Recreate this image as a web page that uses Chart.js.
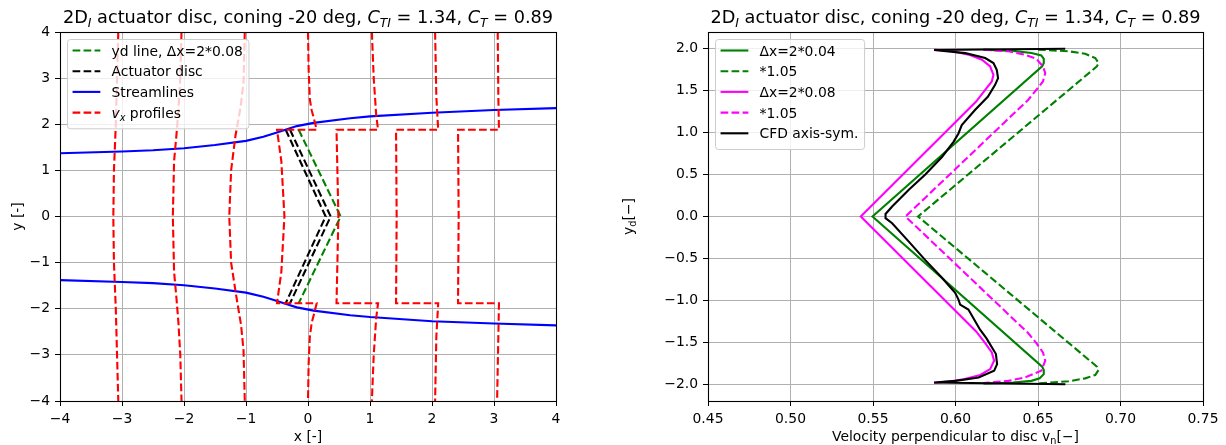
<!DOCTYPE html>
<html>
<head>
<meta charset="utf-8">
<script src="https://cdn.jsdelivr.net/npm/chart.js@4.4.1/dist/chart.umd.min.js"></script>
<style>
  html, body { margin: 0; padding: 0; background: #fff; overflow: hidden; }
  #c1 { position: absolute; left: 0; top: 0; }
  #c2 { position: absolute; left: 613px; top: 0; }
</style>
</head>
<body>
<canvas id="c1" width="613" height="445"></canvas>
<canvas id="c2" width="613" height="445"></canvas>
<script>
// ---- left panel data ----
const xTicksL = [-4, -3, -2, -1, 0, 1, 2, 3, 4];
const yTicksL = [-4, -3, -2, -1, 0, 1, 2, 3, 4];

const streamUpper = [[-4, 1.37], [-3, 1.41], [-2.5, 1.435], [-2, 1.48], [-1.5, 1.55], [-1, 1.64], [-0.72, 1.73], [-0.5, 1.82], [-0.34, 1.89], [-0.18, 1.96], [0.09, 2.03], [0.68, 2.13], [1, 2.17], [2, 2.25], [3, 2.31], [4, 2.35]];
const streamLower = [[-4, -1.38], [-3, -1.42], [-2.5, -1.445], [-2, -1.49], [-1.5, -1.56], [-1, -1.65], [-0.72, -1.74], [-0.5, -1.83], [-0.34, -1.9], [-0.18, -1.97], [0.09, -2.04], [0.68, -2.14], [1, -2.18], [2, -2.27], [3, -2.32], [4, -2.36]];

const discA = [[-0.36, 1.88], [0.285, 0], [-0.36, -1.88]];
const discB = [[-0.29, 1.88], [0.366, 0], [-0.29, -1.88]];
const ydLine = [[-0.15, 1.88], [0.527, 0], [-0.15, -1.88]];

const profiles = [
  [[-3.06, 4], [-3.08, 3], [-3.10, 2], [-3.13, 1], [-3.14, 0], [-3.13, -1], [-3.10, -2], [-3.08, -3], [-3.06, -4]],
  [[-2.04, 4], [-2.06, 3], [-2.09, 2.3], [-2.12, 1.8], [-2.16, 1.2], [-2.18, 0], [-2.16, -1.2], [-2.12, -1.8], [-2.09, -2.3], [-2.06, -3], [-2.04, -4]],
  [[-1.02, 4], [-1.04, 2.9], [-1.09, 2.35], [-1.17, 1.75], [-1.24, 1], [-1.27, 0], [-1.24, -1], [-1.16, -1.7], [-1.08, -2.35], [-1.04, -2.9], [-1.02, -4]],
  [[0.0, 4], [0.01, 3.2], [0.03, 2.53], [0.06, 2.3], [0.1, 2.1], [0.14, 1.88], [-0.5, 1.88], [-0.43, 1.2], [-0.38, 0], [-0.43, -1.2], [-0.5, -1.88], [0.14, -1.88], [0.1, -2.1], [0.06, -2.3], [0.03, -2.6], [0.01, -3.2], [0.0, -4]],
  [[1.03, 4], [1.06, 3], [1.10, 2.2], [1.13, 1.88], [0.46, 1.88], [0.49, 0], [0.46, -1.88], [1.13, -1.88], [1.10, -2.2], [1.06, -3], [1.03, -4]],
  [[2.05, 4], [2.07, 2.6], [2.10, 1.88], [1.42, 1.88], [1.43, 0], [1.42, -1.88], [2.10, -1.88], [2.07, -2.6], [2.05, -4]],
  [[3.06, 4], [3.07, 2.6], [3.08, 1.88], [2.42, 1.88], [2.43, 0], [2.42, -1.88], [3.08, -1.88], [3.07, -2.6], [3.05, -4]]
];

// ---- right panel data ----
const xTicksR = [0.45, 0.5, 0.55, 0.6, 0.65, 0.7, 0.75];
const yTicksR = [-2, -1.5, -1, -0.5, 0, 0.5, 1, 1.5, 2];

const green004 = [[0.617, 1.99], [0.635, 1.975], [0.646, 1.95], [0.652, 1.92], [0.6535, 1.88], [0.6535, 1.83], [0.6525, 1.79], [0.5497, 0],
  [0.6525, -1.79], [0.6535, -1.83], [0.6535, -1.88], [0.651, -1.93], [0.646, -1.96], [0.635, -1.98], [0.617, -1.995]];
const green004x105 = [[0.650, 1.99], [0.6686, 1.97], [0.6786, 1.94], [0.6847, 1.89], [0.6867, 1.83], [0.6857, 1.79], [0.5773, 0],
  [0.6857, -1.79], [0.6867, -1.83], [0.6847, -1.89], [0.6786, -1.93], [0.6686, -1.965], [0.650, -1.99]];
const magenta008 = [[0.587, 1.99], [0.598, 1.97], [0.608, 1.93], [0.616, 1.87], [0.621, 1.79], [0.623, 1.69], [0.622, 1.61], [0.618, 1.51], [0.6125, 1.37], [0.5426, 0],
  [0.6125, -1.37], [0.618, -1.51], [0.622, -1.62], [0.6234, -1.72], [0.621, -1.82], [0.615, -1.89], [0.605, -1.94], [0.597, -1.965], [0.587, -1.985]];
const magenta008x105 = [[0.617, 1.99], [0.632, 1.97], [0.642, 1.93], [0.649, 1.88], [0.653, 1.79], [0.6544, 1.71], [0.653, 1.61], [0.649, 1.51], [0.644, 1.39], [0.5697, 0],
  [0.644, -1.39], [0.649, -1.51], [0.653, -1.62], [0.6544, -1.72], [0.652, -1.84], [0.642, -1.92], [0.632, -1.96], [0.617, -1.985]];
const cfdAxisym = [[0.6665, 2.0], [0.587, 1.985], [0.606, 1.948], [0.618, 1.89], [0.623, 1.83], [0.625, 1.75], [0.6258, 1.65], [0.624, 1.57], [0.6197, 1.43], [0.6118, 1.27], [0.6038, 1.09], [0.6018, 0.99], [0.5988, 0.89], [0.5918, 0.71], [0.5817, 0.5], [0.5717, 0.32], [0.5616, 0.12], [0.5576, 0.03], [0.5576, 0],
  [0.5576, -0.02], [0.5616, -0.08], [0.5717, -0.3], [0.5817, -0.52], [0.5918, -0.73], [0.5998, -0.91], [0.6018, -0.99], [0.6028, -1.05], [0.6078, -1.11], [0.6149, -1.35], [0.6187, -1.45], [0.6245, -1.64], [0.6252, -1.76], [0.6234, -1.84], [0.614, -1.92], [0.600, -1.96], [0.587, -1.98], [0.6666, -2.0]];

const FONT = '"DejaVu Sans"';
const DASH = [7.7, 3.3];
const LW = 2.1;

const pts = arr => arr.map(p => ({x: p[0], y: p[1]}));

// draw text made of pieces: plain, italic, subscript
function drawRich(ctx, segs, x, y, size, align) {
  const parts = segs.map(s => {
    const fs = s.sub ? size * 0.7 : size;
    const font = (s.it ? 'italic ' : '') + fs + 'px ' + FONT;
    ctx.font = font;
    return {t: s.t, font: font, w: ctx.measureText(s.t).width, dy: s.sub ? size * 0.22 : 0};
  });
  const total = parts.reduce((a, p) => a + p.w, 0);
  let cx = align === 'center' ? x - total / 2 : x;
  ctx.textAlign = 'left';
  ctx.textBaseline = 'alphabetic';
  parts.forEach(p => {
    ctx.font = p.font;
    ctx.fillText(p.t, cx, y + p.dy);
    cx += p.w;
  });
  return total;
}

const mplDecor = {
  id: 'mplDecor',
  afterDatasetsDraw(chart, args, o) {
    const {ctx, chartArea: a} = chart;
    ctx.save();
    ctx.strokeStyle = '#000';
    ctx.lineWidth = 1.1;
    ctx.setLineDash([]);
    ctx.strokeRect(Math.round(a.left) + 0.5, Math.round(a.top) + 0.5, Math.round(a.right - a.left), Math.round(a.bottom - a.top));
    ctx.fillStyle = '#000';
    drawRich(ctx, o.title, (a.left + a.right) / 2, 23, 17.7, 'center');
    drawRich(ctx, o.xlabel, (a.left + a.right) / 2, 441, 13.9, 'center');
    ctx.save();
    ctx.translate(o.ylabelX, (a.top + a.bottom) / 2);
    ctx.rotate(-Math.PI / 2);
    drawRich(ctx, o.ylabel, 0, 0, 13.9, 'center');
    ctx.restore();

    // legend box
    const fs = 13.9;
    let maxW = 0;
    o.legend.forEach(it => {
      const w = it.segs.reduce((s, g) => {
        ctx.font = (g.it ? 'italic ' : '') + (g.sub ? fs * 0.7 : fs) + 'px ' + FONT;
        return s + ctx.measureText(g.t).width;
      }, 0);
      maxW = Math.max(maxW, w);
    });
    const bx = a.left + 7, by = a.top + 7;
    const bw = 0.4 * fs + 2 * fs + 0.8 * fs + maxW + 0.4 * fs;
    const pitch = 20.7;
    const bh = o.legend.length * pitch + 6.5;
    ctx.beginPath();
    ctx.roundRect(bx + 0.5, by + 0.5, bw, bh, 3);
    ctx.fillStyle = 'rgba(255,255,255,0.8)';
    ctx.fill();
    ctx.strokeStyle = '#cccccc';
    ctx.lineWidth = 1;
    ctx.stroke();
    o.legend.forEach((it, i) => {
      const cy = by + 11.5 + i * pitch;
      const hx = bx + 0.4 * fs;
      ctx.beginPath();
      ctx.strokeStyle = it.color;
      ctx.lineWidth = LW;
      ctx.setLineDash(it.dash ? DASH : []);
      ctx.moveTo(hx, cy);
      ctx.lineTo(hx + 2 * fs, cy);
      ctx.stroke();
      ctx.setLineDash([]);
      ctx.fillStyle = '#000';
      drawRich(ctx, it.segs, hx + 2.8 * fs, cy + 5, fs, 'left');
    });
    ctx.restore();
  }
};

const minus = s => s.replace('-', '\u2212');

function axes(ticksX, ticksY, lo, hi, fmtX, fmtY, yw) {
  const common = {
    type: 'linear',
    grid: {color: '#b0b0b0', lineWidth: 1, tickColor: '#000', tickLength: 5},
    border: {display: false},
    ticks: {color: '#000', padding: 5, font: {family: 'DejaVu Sans', size: 13.9}}
  };
  return {
    x: Object.assign({}, common, {
      min: lo[0], max: hi[0],
      afterBuildTicks: s => { s.ticks = ticksX.map(v => ({value: v})); },
      afterFit: s => { s.height = 44; },
      ticks: Object.assign({}, common.ticks, {maxRotation: 0, autoSkip: false, callback: fmtX})
    }),
    y: Object.assign({}, common, {
      min: lo[1], max: hi[1],
      afterBuildTicks: s => { s.ticks = ticksY.map(v => ({value: v})); },
      afterFit: s => { s.width = yw; },
      ticks: Object.assign({}, common.ticks, {autoSkip: false, callback: fmtY})
    })
  };
}

function line(data, color, dash) {
  return {
    data: pts(data), showLine: true, pointRadius: 0, pointHoverRadius: 0,
    borderColor: color, backgroundColor: color, borderWidth: LW,
    borderDash: dash ? DASH : [], fill: false, tension: 0
  };
}

const title = [
  {t: '2D'}, {t: 'I', it: 1, sub: 1}, {t: ' actuator disc, coning -20 deg, '},
  {t: 'C', it: 1}, {t: 'TI', it: 1, sub: 1}, {t: ' = 1.34, '},
  {t: 'C', it: 1}, {t: 'T', it: 1, sub: 1}, {t: ' = 0.89'}
];

// left panel: red profiles first so they sit on top
const leftSets = profiles.map(p => line(p, '#ff0000', true))
  .concat([line(streamUpper, '#0000ff', false), line(streamLower, '#0000ff', false),
           line(discA, '#000000', true), line(discB, '#000000', true),
           line(ydLine, '#008000', true)]);

new Chart(document.getElementById('c1'), {
  type: 'scatter',
  data: {datasets: leftSets},
  options: {
    responsive: false, animation: false, devicePixelRatio: 1,
    layout: {padding: {left: 0, right: 57, top: 32, bottom: 0}},
    scales: axes(xTicksL, yTicksL, [-4, -4], [4, 4],
      v => minus(String(v)), v => minus(String(v)), 60),
    plugins: {
      legend: {display: false}, tooltip: {enabled: false},
      mplDecor: {
        title: title,
        xlabel: [{t: 'x [-]'}],
        ylabel: [{t: 'y [-]'}],
        ylabelX: 22,
        legend: [
          {segs: [{t: 'yd line, \u0394x=2*0.08'}], color: '#008000', dash: true},
          {segs: [{t: 'Actuator disc'}], color: '#000000', dash: true},
          {segs: [{t: 'Streamlines'}], color: '#0000ff', dash: false},
          {segs: [{t: 'v', it: 1}, {t: 'x', it: 1, sub: 1}, {t: ' profiles'}], color: '#ff0000', dash: true}
        ]
      }
    }
  },
  plugins: [mplDecor]
});

const rightSets = [
  line(cfdAxisym, '#000000', false),
  line(magenta008x105, '#ff00ff', true),
  line(magenta008, '#ff00ff', false),
  line(green004x105, '#008000', true),
  line(green004, '#008000', false)
];

new Chart(document.getElementById('c2'), {
  type: 'scatter',
  data: {datasets: rightSets},
  options: {
    responsive: false, animation: false, devicePixelRatio: 1,
    layout: {padding: {left: 0, right: 23, top: 32, bottom: 0}},
    scales: axes(xTicksR, yTicksR, [0.45, -2.2], [0.75, 2.2],
      v => v.toFixed(2), v => minus(v.toFixed(1)), 95),
    plugins: {
      legend: {display: false}, tooltip: {enabled: false},
      mplDecor: {
        title: title,
        xlabel: [{t: 'Velocity perpendicular to disc v'}, {t: 'n', sub: 1}, {t: '[\u2212]'}],
        ylabel: [{t: 'y'}, {t: 'd', sub: 1}, {t: '[\u2212]'}],
        ylabelX: 20,
        legend: [
          {segs: [{t: '\u0394x=2*0.04'}], color: '#008000', dash: false},
          {segs: [{t: '*1.05'}], color: '#008000', dash: true},
          {segs: [{t: '\u0394x=2*0.08'}], color: '#ff00ff', dash: false},
          {segs: [{t: '*1.05'}], color: '#ff00ff', dash: true},
          {segs: [{t: 'CFD axis-sym.'}], color: '#000000', dash: false}
        ]
      }
    }
  },
  plugins: [mplDecor]
});
</script>
</body>
</html>
